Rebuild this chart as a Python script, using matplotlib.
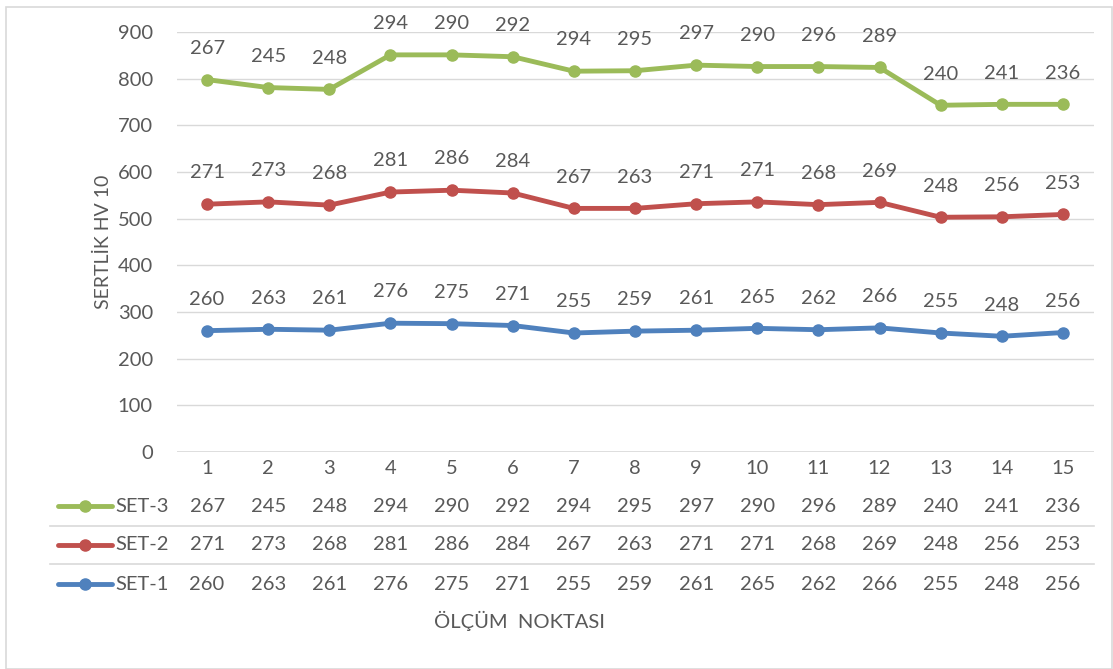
import matplotlib
matplotlib.use("Agg")
import matplotlib.pyplot as plt
import matplotlib.transforms as mtransforms
from matplotlib.lines import Line2D
from matplotlib.patches import Rectangle
import numpy as np

# Measurement points and hardness readings (HV 10)
points = list(range(1, 16))
set1 = [260, 263, 261, 276, 275, 271, 255, 259, 261, 265, 262, 266, 255, 248, 256]
set2 = [271, 273, 268, 281, 286, 284, 267, 263, 271, 271, 268, 269, 248, 256, 253]
set3 = [267, 245, 248, 294, 290, 292, 294, 295, 297, 290, 296, 289, 240, 241, 236]

series_names = ["SET-1", "SET-2", "SET-3"]
series_values = [set1, set2, set3]
series_colors = ["#4F81BD", "#C0504D", "#9BBB59"]

y_ticks = list(range(0, 1000, 100))

TEXT = "#595959"
GRID = "#D9D9D9"
FONT = "Lato"
FS = 14.5

plt.rcParams["font.family"] = [FONT, "DejaVu Sans"]

W, H = 1113, 669
fig = plt.figure(figsize=(W / 100, H / 100), dpi=100)

# outer chart frame
fig.patches.append(Rectangle((6 / W, 0), (W - 7) / W, (H - 7) / H,
                             transform=fig.transFigure, fill=False,
                             edgecolor=GRID, linewidth=1.2))

left, right, top, bottom = 176.5, 1093.5, 32, 452
ax = fig.add_axes([left / W, 1 - bottom / H, (right - left) / W, (bottom - top) / H])

x = np.arange(len(points))
ax.set_xlim(-0.5, len(points) - 0.5)
ax.set_ylim(0, 900)
ax.set_yticks(y_ticks)
ax.set_yticklabels([str(v) for v in y_ticks], fontsize=FS, color=TEXT)
ax.tick_params(axis="y", length=0, pad=17)
ax.set_xticks([])
ax.grid(axis="y", color=GRID, linewidth=1)
ax.set_axisbelow(True)
for s in ax.spines.values():
    s.set_visible(False)
ax.axhline(0, color=GRID, linewidth=1.2)

ax.set_ylabel("SERTLİK HV 10", fontsize=FS - 0.5, color=TEXT, labelpad=4)

# stacked lines with value labels
cum = np.zeros(len(points))
for name, vals, col in zip(series_names, series_values, series_colors):
    cum = cum + np.array(vals)
    ax.plot(x, cum, color=col, linewidth=3.5, marker="o", markersize=8,
            solid_capstyle="round", zorder=3)
    for xi, yi, v in zip(x, cum, vals):
        ax.annotate(str(v), (xi, yi), xytext=(0, 22.5), textcoords="offset points",
                    ha="center", va="center", fontsize=FS, color=TEXT,
                    annotation_clip=False)

# data table below the plot
blend = mtransforms.blended_transform_factory(ax.transData, fig.transFigure)
fy = lambda py: 1 - py / H

for xi, p in zip(x, points):
    fig.text(xi, fy(469), str(p), transform=blend, ha="center", va="center",
             fontsize=FS, color=TEXT)

row_y = {"SET-3": 506, "SET-2": 545, "SET-1": 584}
for name, vals, col in zip(series_names, series_values, series_colors):
    yy = fy(row_y[name])
    for xi, v in zip(x, vals):
        fig.text(xi, yy, str(v), transform=blend, ha="center", va="center",
                 fontsize=FS, color=TEXT)
    fig.text(115 / W, yy, name, ha="left", va="center", fontsize=FS, color=TEXT)
    fig.add_artist(Line2D([58 / W, 112 / W], [yy, yy], transform=fig.transFigure,
                          color=col, linewidth=3.5, solid_capstyle="round"))
    fig.add_artist(Line2D([85 / W], [yy], transform=fig.transFigure, color=col,
                          marker="o", markersize=8, linestyle="none"))

for sep in (526, 564):
    fig.add_artist(Line2D([50 / W, right / W], [fy(sep), fy(sep)],
                          transform=fig.transFigure, color=GRID, linewidth=1.2))

fig.text(520 / W, fy(621), "ÖLÇÜM  NOKTASI", ha="center", va="center",
         fontsize=FS, color=TEXT)

fig.savefig("out.png", dpi=100, facecolor="white")
